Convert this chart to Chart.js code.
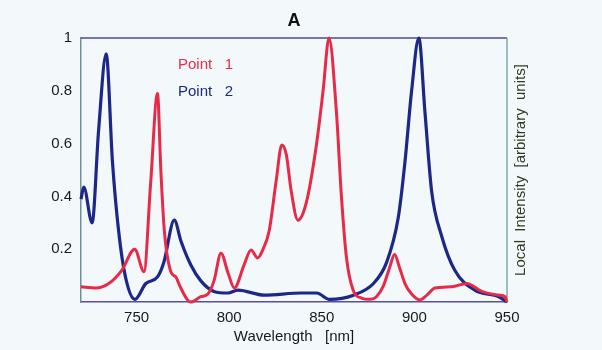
<!DOCTYPE html>
<html>
<head>
<meta charset="utf-8">
<script src="https://cdn.jsdelivr.net/npm/chart.js@4"></script>
<style>
  html, body { margin: 0; padding: 0; background: #f3f8fb; }
  #wrap { position: relative; width: 602px; height: 350px; }
</style>
</head>
<body>
<div id="wrap"><canvas id="chart" width="602" height="350"></canvas></div>
<script>
// Point 1 (red) and Point 2 (blue)
const p1Wave = [720, 728, 735, 742, 749, 754, 757.6, 761.3, 763.1, 765, 768.5, 771.2, 773.4, 777.5, 779.3, 784.7, 788.5, 791.8, 795.6, 799.4, 802.8, 808, 811.8, 815.4, 818.3, 821.6, 825.4, 828.4, 830.8, 833.5, 837.1, 841.6, 847, 850.7, 853.9, 857.9, 860.6, 863.3, 866.9, 871.4, 875.9, 879.5, 883.2, 886.6, 889.3, 892, 894.9, 898.5, 903, 906.6, 911.1, 920.2, 928.3, 936.4, 945.6, 949, 950];
const p1Vals = [0.058, 0.053, 0.07, 0.12, 0.2, 0.115, 0.45, 0.79, 0.5, 0.27, 0.115, 0.095, 0.06, 0.008, 0.0, 0.02, 0.03, 0.08, 0.185, 0.11, 0.053, 0.14, 0.197, 0.167, 0.2, 0.27, 0.46, 0.595, 0.56, 0.42, 0.31, 0.375, 0.59, 0.8, 1.0, 0.72, 0.4, 0.17, 0.045, 0.015, 0.01, 0.02, 0.06, 0.13, 0.18, 0.13, 0.07, 0.03, 0.008, 0.025, 0.053, 0.058, 0.07, 0.04, 0.026, 0.02, 0.0];

const p2Wave = [720, 721.5, 726, 729.5, 733.6, 737, 740.3, 744, 749.1, 755, 761.3, 764.7, 770.4, 774, 779.3, 784.7, 791.8, 799.4, 804.8, 818.9, 839, 847.2, 854.2, 867.1, 877.9, 885, 891.3, 894.9, 898.5, 902.4, 905.7, 909.3, 914.7, 921.8, 932.6, 945.6, 950];
const p2Vals = [0.39, 0.435, 0.3, 0.65, 0.94, 0.53, 0.27, 0.095, 0.01, 0.07, 0.095, 0.15, 0.31, 0.23, 0.14, 0.08, 0.04, 0.034, 0.045, 0.026, 0.034, 0.034, 0.01, 0.026, 0.07, 0.15, 0.32, 0.53, 0.8, 1.0, 0.72, 0.42, 0.25, 0.12, 0.045, 0.02, 0.0];

const xTicks = [750, 800, 850, 900, 950];
const yTicks = [0.2, 0.4, 0.6, 0.8, 1];
const seriesNames = ['Point   1', 'Point   2'];
const chartTitle = 'A';
const xTitle = 'Wavelength   [nm]';
const yTitle = 'Local  Intensity  [arbitrary  units]';

const red = '#e62a48';
const blue = '#1c2888';
const font = 'Arial, "Liberation Sans", sans-serif';

// frame, title, in-plot legend, and right-hand axis label
const decor = {
  id: 'decor',
  beforeDatasetsDraw(chart) {
    const a = chart.chartArea;
    const ctx = chart.ctx;
    ctx.save();
    ctx.lineWidth = 1.5;
    ctx.strokeStyle = '#4c4a96';
    ctx.beginPath();
    ctx.moveTo(a.left, a.top);
    ctx.lineTo(a.right, a.top);
    ctx.stroke();
    ctx.strokeStyle = '#7fa8a8';
    ctx.beginPath();
    ctx.moveTo(a.right, a.top);
    ctx.lineTo(a.right, a.bottom);
    ctx.stroke();
    ctx.restore();
  },
  afterDraw(chart) {
    const a = chart.chartArea;
    const ctx = chart.ctx;
    ctx.save();
    ctx.fillStyle = '#111';
    ctx.font = 'bold 18px ' + font;
    ctx.textAlign = 'center';
    ctx.textBaseline = 'middle';
    ctx.fillText(chartTitle, 294, 21);

    ctx.font = '15px ' + font;
    ctx.textAlign = 'left';
    ctx.fillStyle = red;
    ctx.fillText(seriesNames[0], 178, 65);
    ctx.fillStyle = blue;
    ctx.fillText(seriesNames[1], 178, 92);

    ctx.translate(a.right + 14, (a.top + a.bottom) / 2);
    ctx.rotate(-Math.PI / 2);
    ctx.textAlign = 'center';
    ctx.fillStyle = '#2f3a22';
    ctx.fillText(yTitle, 0, 0);
    ctx.restore();
  }
};

new Chart(document.getElementById('chart'), {
  type: 'line',
  data: {
    datasets: [
      {
        label: seriesNames[0],
        data: p1Wave.map((w, i) => ({ x: w, y: p1Vals[i] })),
        borderColor: red,
        borderWidth: 3,
        pointRadius: 0,
        cubicInterpolationMode: 'monotone'
      },
      {
        label: seriesNames[1],
        data: p2Wave.map((w, i) => ({ x: w, y: p2Vals[i] })),
        borderColor: blue,
        borderWidth: 3.2,
        pointRadius: 0,
        cubicInterpolationMode: 'monotone'
      }
    ]
  },
  options: {
    responsive: false,
    animation: false,
    clip: false,
    layout: { padding: { top: 38, right: 95, left: 0, bottom: 0 } },
    plugins: {
      legend: { display: false },
      tooltip: { enabled: false }
    },
    scales: {
      x: {
        type: 'linear',
        min: 720,
        max: 950,
        afterBuildTicks: (s) => { s.ticks = xTicks.map(v => ({ value: v })); },
        afterFit: (s) => { s.height = 48; },
        grid: { display: false, drawTicks: false },
        border: { display: true, color: '#5a4f9a', width: 1.5 },
        ticks: { padding: 7, color: '#1a1a1a', font: { family: font, size: 15 } },
        title: {
          display: true,
          text: xTitle,
          color: '#1a1a1a',
          font: { family: font, size: 15 },
          padding: { top: 0, bottom: 4 }
        }
      },
      y: {
        min: 0,
        max: 1,
        afterBuildTicks: (s) => { s.ticks = yTicks.map(v => ({ value: v })); },
        afterFit: (s) => { s.width = 81; },
        grid: { display: false, drawTicks: false },
        border: { display: true, color: '#6f8f9a', width: 1.5 },
        ticks: {
          padding: 9,
          color: '#1a1a1a',
          font: { family: font, size: 15 },
          callback: (v) => String(v)
        }
      }
    }
  },
  plugins: [decor]
});
</script>
</body>
</html>
